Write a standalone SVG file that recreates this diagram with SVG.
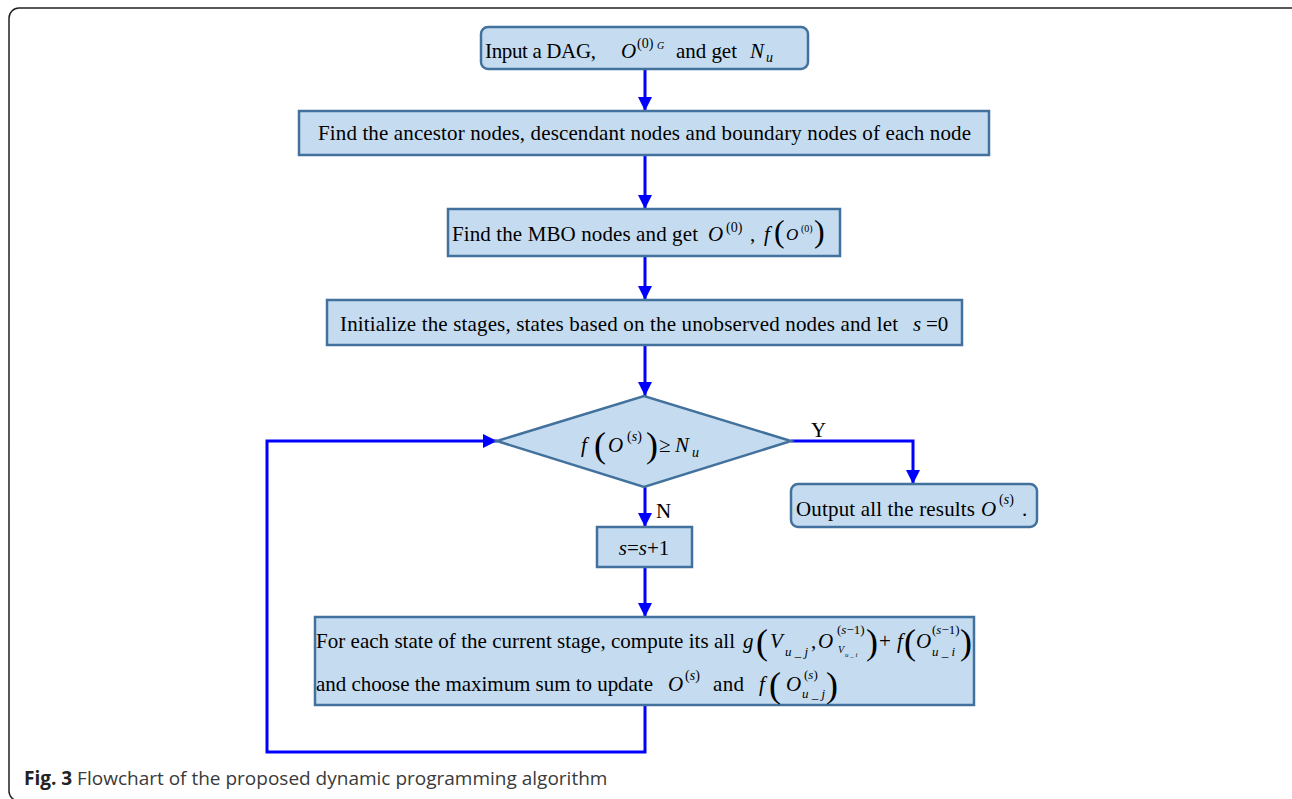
<svg xmlns="http://www.w3.org/2000/svg" width="1292" height="799" viewBox="0 0 1292 799">
<defs>
<style>
.box{fill:#C5DCF0;stroke:#41719C;stroke-width:2.5}
.t{font-family:"Liberation Serif","Times New Roman",serif;font-size:21px;fill:#000}
.i{font-style:italic}
.sup{font-size:14px}
.sm{font-size:10px}
.bp{font-size:36px}
.con{fill:none;stroke:#0000FF;stroke-width:3}
.cap{font-family:"Open Sans","Liberation Sans",sans-serif;font-size:19px;fill:#3a3a3a}
</style>
<marker id="ah" markerUnits="userSpaceOnUse" markerWidth="16" markerHeight="16" viewBox="0 0 16 16" refX="15" refY="8" orient="auto">
<path d="M1,1 L15,8 L1,15 Z" fill="#0000FF"/>
</marker>
</defs>
<rect x="0" y="0" width="1292" height="799" fill="#fff"/>
<rect x="9" y="8" width="1296" height="793" rx="10" fill="none" stroke="#222" stroke-width="1.5"/>

<g id="connectors">
<line class="con" x1="645" y1="69" x2="645" y2="111" marker-end="url(#ah)"/>
<line class="con" x1="645" y1="155" x2="645" y2="209" marker-end="url(#ah)"/>
<line class="con" x1="645" y1="256" x2="645" y2="300" marker-end="url(#ah)"/>
<line class="con" x1="645" y1="345" x2="645" y2="396" marker-end="url(#ah)"/>
<line class="con" x1="645" y1="487" x2="645" y2="527" marker-end="url(#ah)"/>
<line class="con" x1="645" y1="567" x2="645" y2="617" marker-end="url(#ah)"/>
<polyline class="con" points="791,441 913,441 913,484" marker-end="url(#ah)"/>
<polyline class="con" points="645,705 645,752 267,752 267,441 497,441" marker-end="url(#ah)"/>
<text class="t" x="811" y="437">Y</text>
<text class="t" x="656" y="518">N</text>
</g>

<g id="n1">
<rect class="box" x="481" y="27" width="327" height="42" rx="7"/>
<text class="t" x="485" y="58" textLength="111">Input a DAG,</text>
<text class="t i" x="621" y="58">O</text>
<text class="t sup" x="637" y="48">(0)</text>
<text class="t i sm" x="657" y="49">G</text>
<text class="t" x="676" y="58" textLength="61">and get</text>
<text class="t i" x="750" y="58">N</text>
<text class="t i sup" x="766" y="62">u</text>
</g>

<g id="n2">
<rect class="box" x="299" y="111" width="690" height="44"/>
<text class="t" x="318" y="140" textLength="653">Find the ancestor nodes, descendant nodes and boundary nodes of each node</text>
</g>

<g id="n3">
<rect class="box" x="448" y="209" width="392" height="47"/>
<text class="t" x="452" y="241" textLength="246">Find the MBO nodes and get</text>
<text class="t i" x="708" y="241">O</text>
<text class="t sup" x="726" y="232">(0)</text>
<text class="t" x="750" y="241">,</text>
<text class="t i" x="764" y="241">f</text>
<text class="t" x="774" y="242" style="font-size:32px">(</text>
<text class="t i" x="786" y="240" style="font-size:17px">O</text>
<text class="t" x="801" y="232" style="font-size:10px">(0)</text>
<text class="t" x="814" y="242" style="font-size:32px">)</text>
</g>

<g id="n4">
<rect class="box" x="327" y="300" width="635" height="45"/>
<text class="t" x="340" y="331" textLength="558">Initialize the stages, states based on the unobserved nodes and let</text>
<text class="t i" x="913" y="331">s</text>
<text class="t" x="926" y="331">=0</text>
</g>

<g id="n5">
<polygon class="box" points="497,441 644,396 791,441 644,487"/>
<text class="t i" x="581" y="452">f</text>
<text class="t bp" x="594" y="457">(</text>
<text class="t i" x="608" y="452">O</text>
<text class="t sup" x="627" y="441">(<tspan class="i">s</tspan>)</text>
<text class="t bp" x="646" y="457">)</text>
<text class="t" x="659" y="452">≥</text>
<text class="t i" x="675" y="452">N</text>
<text class="t i sup" x="692" y="457">u</text>
</g>

<g id="n6">
<rect class="box" x="791" y="484" width="246" height="43" rx="7"/>
<text class="t" x="796" y="516" textLength="179">Output all the results</text>
<text class="t i" x="981" y="516">O</text>
<text class="t sup" x="999" y="504">(<tspan class="i">s</tspan>)</text>
<text class="t" x="1022" y="516">.</text>
</g>

<g id="n7">
<rect class="box" x="597" y="527" width="95" height="40"/>
<text class="t" x="644" y="555" text-anchor="middle"><tspan class="i">s</tspan>=<tspan class="i">s</tspan>+1</text>
</g>

<g id="n8">
<rect class="box" x="315" y="617" width="659" height="88"/>
<text class="t" x="316" y="648" textLength="419">For each state of the current stage, compute its all</text>
<text class="t i" x="743" y="648">g</text>
<text class="t bp" x="756" y="654">(</text>
<text class="t i" x="770" y="648">V</text>
<text class="t i" x="785" y="656" style="font-size:13px">u _ j</text>
<text class="t" x="811" y="648">,</text>
<text class="t i" x="818" y="648">O</text>
<text class="t" x="837" y="634" style="font-size:13px">(<tspan class="i">s</tspan>−1)</text>
<text class="t i sm" x="838" y="653">V</text>
<text class="t i" x="845" y="657" style="font-size:7px">u _ i</text>
<text class="t bp" x="866" y="654">)</text>
<text class="t" x="879" y="648">+</text>
<text class="t i" x="897" y="648">f</text>
<text class="t bp" x="904" y="654">(</text>
<text class="t i" x="916" y="648">O</text>
<text class="t" x="932" y="634" style="font-size:13px">(<tspan class="i">s</tspan>−1)</text>
<text class="t i" x="932" y="656" style="font-size:13px">u _ i</text>
<text class="t bp" x="960" y="654">)</text>

<text class="t" x="316" y="691" textLength="337">and choose the maximum sum to update</text>
<text class="t i" x="668" y="691">O</text>
<text class="t sup" x="685" y="680">(<tspan class="i">s</tspan>)</text>
<text class="t" x="713" y="691" textLength="31">and</text>
<text class="t i" x="759" y="691">f</text>
<text class="t bp" x="769" y="697">(</text>
<text class="t i" x="786" y="691">O</text>
<text class="t" x="804" y="679" style="font-size:13px">(<tspan class="i">s</tspan>)</text>
<text class="t i" x="802" y="698" style="font-size:13px">u _ j</text>
<text class="t bp" x="826" y="697">)</text>
</g>

<text class="cap" x="24" y="785"><tspan font-weight="bold" fill="#222">Fig. 3</tspan> Flowchart of the proposed dynamic programming algorithm</text>
</svg>
